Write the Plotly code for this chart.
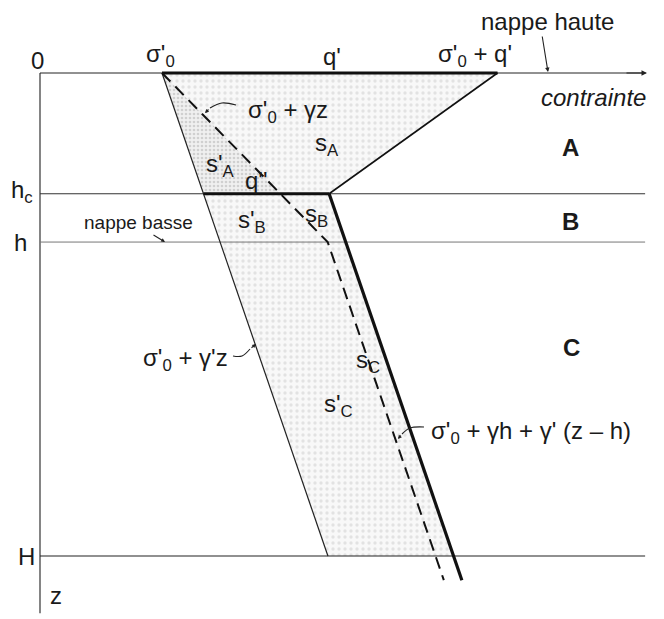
import numpy as np
import plotly.graph_objects as go

# Soil parameters (arbitrary stress units, depths in m)
sigma0 = 20.0        # initial effective stress at the surface
q_prime = 55.0       # surcharge q'
q_second = 20.6      # residual surcharge q'' below hc
gamma = 9.7          # unit weight above the water table
gamma_p = 3.4        # submerged unit weight
depth_levels = {"hc": 2.0, "h": 2.8, "H": 8.0}
z_axis_end = 8.95
z_line_end = 8.4
s_axis_end = 99.2

hc, h, H = depth_levels["hc"], depth_levels["h"], depth_levels["H"]

# pixel scales of the drawing (px per unit)
SX, SZ = 6.1, 60.375
W, HGT = 664, 619
X0_PX, Z0_PX = 40, 73
x_range = [-X0_PX / SX, (W - X0_PX) / SX]
z_range = [(HGT - Z0_PX) / SZ, -Z0_PX / SZ]

FONT = "Liberation Sans, Arial, sans-serif"
FS = 24

def thin_line(z):
    return sigma0 + gamma_p * z

def thick_line(z):
    return sigma0 + gamma_p * z + q_second

def dashed_line(z):
    z = np.asarray(z, dtype=float)
    return np.where(z <= h, sigma0 + gamma * z, sigma0 + gamma * h + gamma_p * (z - h))

fig = go.Figure()

# stippled stress area
poly_x = [sigma0, sigma0 + q_prime, thick_line(hc), thick_line(H), thin_line(H), sigma0]
poly_z = [0, 0, hc, H, H, 0]
fig.add_trace(go.Scatter(
    x=poly_x, y=poly_z, mode="lines", fill="toself", line=dict(width=0),
    fillcolor="rgba(0,0,0,0)",
    fillpattern=dict(shape=".", fgcolor="#cccccc", bgcolor="#f8f8f8", size=6, solidity=0.25),
    hoverinfo="skip"))
# denser stipple between gamma' line and gamma line in zone A
fig.add_trace(go.Scatter(
    x=[sigma0, float(dashed_line(hc)), thin_line(hc), sigma0], y=[0, hc, hc, 0],
    mode="lines", fill="toself", line=dict(width=0),
    fillcolor="rgba(0,0,0,0)",
    fillpattern=dict(shape=".", fgcolor="#b0b0b0", bgcolor="#f0f0f0", size=4, solidity=0.35),
    hoverinfo="skip"))

def seg(x, y, width=1.0, color="#111", dash="solid"):
    fig.add_trace(go.Scatter(x=x, y=y, mode="lines",
                             line=dict(width=width, color=color, dash=dash),
                             hoverinfo="skip"))

# axes
seg([0, 0], [0, z_axis_end], 1.2, "#333")
seg([0, s_axis_end], [0, 0], 1.0, "#222")
# level lines
seg([0, s_axis_end], [hc, hc], 1.0, "#333")
seg([0, s_axis_end], [h, h], 1.0, "#777")
seg([0, s_axis_end], [H, H], 1.2, "#222")

# stress profiles
seg([thin_line(0), thin_line(H)], [0, H], 1.2, "#222")
z_d = np.array([0, h, z_line_end])
seg(dashed_line(z_d), z_d, 2.0, "#111", "12px,7px")
seg([sigma0, sigma0 + q_prime], [0, 0], 3.2, "#111")
seg([sigma0 + q_prime, thick_line(hc)], [0, hc], 1.6, "#111")
seg([thin_line(hc), thick_line(hc)], [hc, hc], 3.2, "#111")
seg([thick_line(hc), thick_line(z_line_end)], [hc, z_line_end], 3.2, "#111")

# curved pointers
def curve(xs, zs):
    fig.add_trace(go.Scatter(x=xs, y=zs, mode="lines", line=dict(width=1.1, color="#222", shape="spline"),
                             hoverinfo="skip"))

def px(xp, zp):
    return (xp - X0_PX) / SX, (zp - Z0_PX) / SZ

annotations = []

def arrow(head, tail, size=0.8):
    hx, hz = px(*head)
    tx, tz = px(*tail)
    annotations.append(dict(x=hx, y=hz, ax=tx, ay=tz, xref="x", yref="y", axref="x", ayref="y",
                            text="", showarrow=True, arrowhead=2, arrowsize=size,
                            arrowwidth=1.1, arrowcolor="#222"))

def label(text, xp, zp, size=FS, **kw):
    x, z = px(xp, zp)
    annotations.append(dict(x=x, y=z, xref="x", yref="y", text=text, showarrow=False,
                            font=dict(family=FONT, size=size, color="#1a1a1a"), **kw))

# axis arrowhead
arrow((647, 73), (625, 73), 1.0)

c1 = [px(236, 105), px(222, 103), px(210, 108)]
curve([p[0] for p in c1], [p[1] for p in c1])
arrow((205, 113), (210, 108), 0.7)
c2 = [px(233, 356), px(242, 356), px(250, 349)]
curve([p[0] for p in c2], [p[1] for p in c2])
arrow((256, 344), (250, 349), 0.7)
c3 = [px(424, 427), px(410, 428), px(402, 434)]
curve([p[0] for p in c3], [p[1] for p in c3])
arrow((398, 439), (402, 434), 0.7)
arrow((548, 72), (542, 35), 0.8)
arrow((165, 242), (152, 234), 0.7)

label("0", 37, 60)
label("σ'<sub>0</sub>", 160, 55)
label("q'", 332, 56)
label("σ'<sub>0</sub> + q'", 475, 55)
label("nappe haute", 547, 21)
label("<i>contrainte</i>", 593, 97)
label("<b>A</b>", 570, 147)
label("<b>B</b>", 570, 221)
label("<b>C</b>", 571, 347)
label("h<sub>c</sub>", 22, 191)
label("h", 20, 242)
label("H", 26, 556)
label("z", 56, 595)
label("nappe basse", 138, 222, 19)
label("σ'<sub>0</sub> + γz", 288, 111)
label("s<sub>A</sub>", 327, 144)
label("s'<sub>A</sub>", 220, 165)
label("q''", 256, 180)
label("s'<sub>B</sub>", 252, 221)
label("s<sub>B</sub>", 316, 215)
label("s<sub>C</sub>", 368, 361)
label("s'<sub>C</sub>", 338, 405)
label("σ'<sub>0</sub> + γ'z", 185, 359)
label("σ'<sub>0</sub> + γh + γ' (z – h)", 531, 432)

fig.update_layout(
    width=W, height=HGT, margin=dict(l=0, r=0, t=0, b=0),
    paper_bgcolor="white", plot_bgcolor="white", showlegend=False,
    xaxis=dict(range=x_range, visible=False, fixedrange=True),
    yaxis=dict(range=z_range, visible=False, fixedrange=True),
    annotations=annotations,
)

fig.write_html("out.html")
